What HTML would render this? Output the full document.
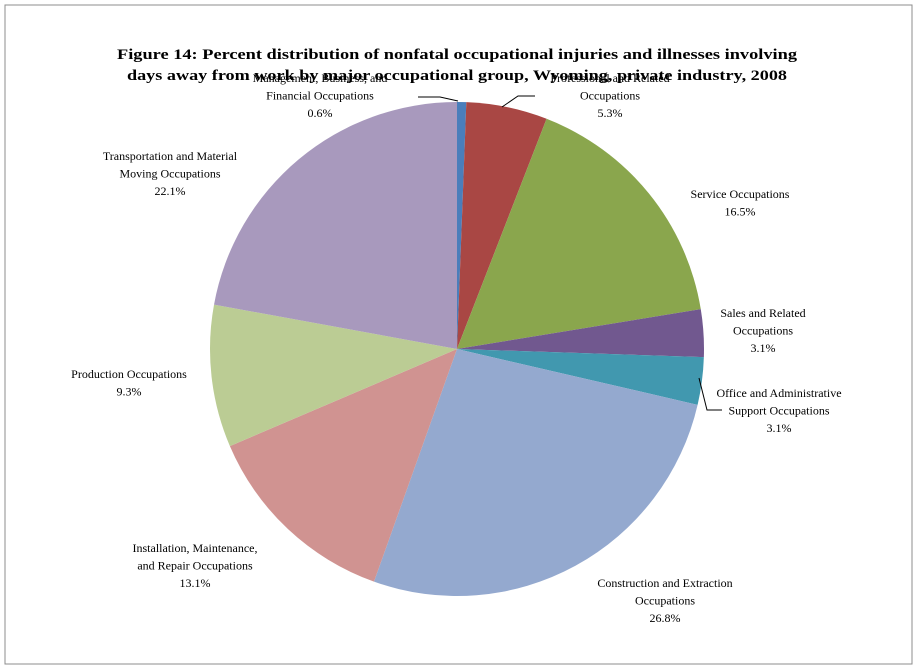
<!DOCTYPE html>
<html><head><meta charset="utf-8"><style>
body{margin:0;background:#fff;}
svg{display:block;font-family:"Liberation Serif","DejaVu Serif",serif;}
</style></head><body>
<svg width="918" height="669" viewBox="0 0 918 669">
<rect x="5" y="5" width="907" height="659" fill="#fff" stroke="#8c8c8c" stroke-width="1"/>
<g font-weight="bold" font-size="15" text-anchor="middle">
<text x="457" y="59" textLength="680" lengthAdjust="spacingAndGlyphs">Figure 14: Percent distribution of nonfatal occupational injuries and illnesses involving</text>
<text x="457" y="80" textLength="660" lengthAdjust="spacingAndGlyphs">days away from work by major occupational group, Wyoming, private industry, 2008</text>
</g>
<g id="slices"></g>
<g id="leaders" stroke="#000" stroke-width="1" fill="none">
<polyline points="418,97 440,97 458,101"/>
<polyline points="535,96 518,96 502,107"/>
<polyline points="699,378 707,410 722,410"/>
</g>
<g id="labels" font-size="12" text-anchor="middle" fill="#000"></g>
</svg>
<script>
const categories=["Management, Business, and|Financial Occupations","Professional and Related|Occupations","Service Occupations","Sales and Related|Occupations","Office and Administrative|Support Occupations","Construction and Extraction|Occupations","Installation, Maintenance,|and Repair Occupations","Production Occupations","Transportation and Material|Moving Occupations"];
const values=[0.6,5.3,16.5,3.1,3.1,26.8,13.1,9.3,22.1];
const colors=["#4a7ebb","#a94744","#8aa64d","#71588f","#4198af","#94a9cf","#d09391","#bbcc94","#a899bd"];
const labelPos=[[320,82],[610,82],[740,198],[763,317],[779,397],[665,587],[195,552],[129,378],[170,160]];
const cx=457,cy=349,r=247;
const NS="http://www.w3.org/2000/svg";
const total=values.reduce((a,b)=>a+b,0);
let a0=0;
const gs=document.getElementById('slices'),gl=document.getElementById('labels');
values.forEach((v,i)=>{
  const a1=a0+v/total*2*Math.PI;
  const x0=cx+r*Math.sin(a0),y0=cy-r*Math.cos(a0),x1=cx+r*Math.sin(a1),y1=cy-r*Math.cos(a1);
  const p=document.createElementNS(NS,'path');
  p.setAttribute('d',`M${cx},${cy}L${x0},${y0}A${r},${r} 0 ${a1-a0>Math.PI?1:0} 1 ${x1},${y1}Z`);
  p.setAttribute('fill',colors[i]);
  
  
  gs.appendChild(p);
  const t=document.createElementNS(NS,'text');
  
  
  const lines=categories[i].split('|').concat([v.toFixed(1)+'%']);
  lines.forEach((s,k)=>{const ts=document.createElementNS(NS,'tspan');ts.setAttribute('x',labelPos[i][0]);ts.setAttribute('y',labelPos[i][1]+k*17.5);ts.textContent=s;t.appendChild(ts);});
  gl.appendChild(t);
  a0=a1;
});
</script>
</body></html>
